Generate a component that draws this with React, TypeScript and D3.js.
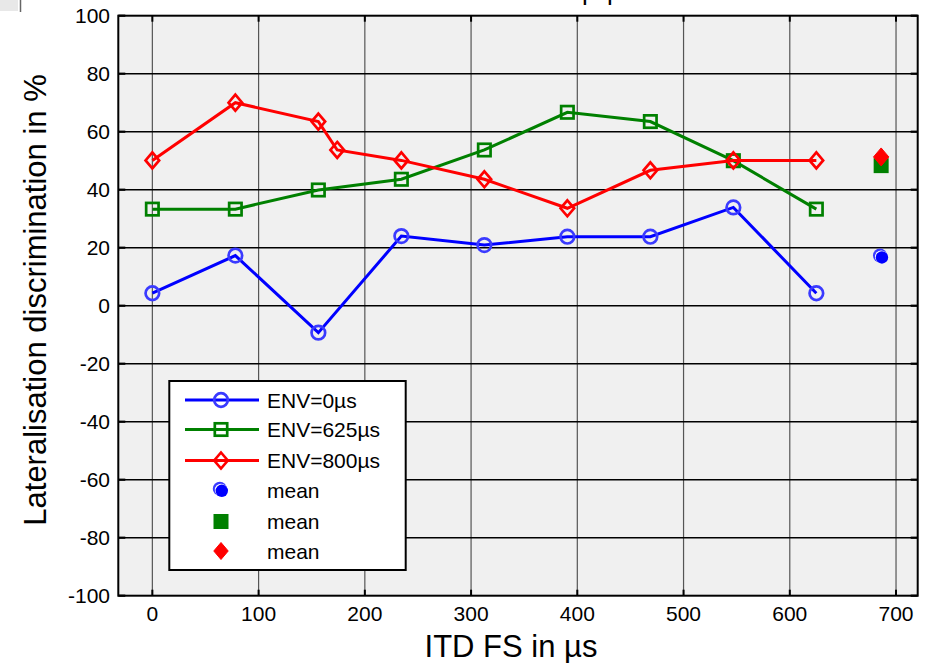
import React from "react";
import * as d3 from "d3";

const itdValues = [0, 78.125, 156.25, 234.375, 312.5, 390.625, 468.75, 546.875, 625];
const env0Values = [4.3, 17.3, -9.3, 24.0, 20.9, 23.8, 23.8, 33.9, 4.3];
const env625Values = [33.3, 33.3, 39.9, 43.6, 53.7, 66.7, 63.5, 50.0, 33.3];
const env800Itd = [0, 78.125, 156.25, 174, 234.375, 312.5, 390.625, 468.75, 546.875, 625];
const env800Values = [50.1, 70.0, 63.5, 53.7, 50.1, 43.6, 33.6, 46.7, 50.1, 50.1];
const meanItd = 686;
const meanValues = [16.9, 48.3, 51.3];
const xTicks = [0, 100, 200, 300, 400, 500, 600, 700];
const yTicks = [-100, -80, -60, -40, -20, 0, 20, 40, 60, 80, 100];
const legendLabels = ["ENV=0µs", "ENV=625µs", "ENV=800µs", "mean", "mean", "mean"];

const W = 928, H = 663;
const L = 118.3, R = 917.7, T = 15.7, B = 595.7;
const FONT = "'Liberation Sans', Arial, sans-serif";
const BLUE = "#0000ff", BLUE_M = "#3a3aff", GREEN = "#008000", RED = "#ff0000";

const x = d3.scaleLinear().domain([-32.06, 720.4]).range([L, R]);
const y = d3.scaleLinear().domain([-100, 100]).range([B, T]);

function Circle({ cx, cy }: { cx: number; cy: number }) {
  return <circle cx={cx} cy={cy} r={6.8} fill="none" stroke={BLUE_M} strokeWidth={2.7} />;
}
function Square({ cx, cy }: { cx: number; cy: number }) {
  return <rect x={cx - 6.2} y={cy - 6.2} width={12.4} height={12.4} fill="none" stroke={GREEN} strokeWidth={2.7} />;
}
function Diamond({ cx, cy, s = 8, fill = "none" }: { cx: number; cy: number; s?: number; fill?: string }) {
  return (
    <path
      d={`M${cx},${cy - s}L${cx + s * 0.85},${cy}L${cx},${cy + s}L${cx - s * 0.85},${cy}Z`}
      fill={fill}
      stroke={RED}
      strokeWidth={fill === "none" ? 2.7 : 1}
    />
  );
}
function MeanCircle({ cx, cy }: { cx: number; cy: number }) {
  return (
    <g>
      <circle cx={cx - 1.2} cy={cy - 1.2} r={7} fill={BLUE_M} />
      <circle cx={cx} cy={cy} r={6.2} fill="#ffffff" />
      <circle cx={cx + 0.8} cy={cy + 0.8} r={6.2} fill={BLUE} />
    </g>
  );
}
function MeanSquare({ cx, cy }: { cx: number; cy: number }) {
  return <rect x={cx - 7.5} y={cy - 7.5} width={15} height={15} fill={GREEN} />;
}

export default function App() {
  const line = d3.line<[number, number]>().x((d) => x(d[0])).y((d) => y(d[1]));
  const blue = itdValues.map((v, i) => [v, env0Values[i]] as [number, number]);
  const green = itdValues.map((v, i) => [v, env625Values[i]] as [number, number]);
  const red = env800Itd.map((v, i) => [v, env800Values[i]] as [number, number]);

  const lgX0 = 185, lgX1 = 259, lgM = 221, lgT = 267;
  const rows = [400, 429.5, 460.5, 490, 521.5, 551];

  return (
    <svg width={W} height={H} style={{ position: "absolute", left: 0, top: 0, background: "#fff" }} fontFamily={FONT}>
      <rect x={0} y={0} width={18} height={11} fill="#e8e8e8" />
      <line x1={20.5} y1={0} x2={20.5} y2={12} stroke="#666" strokeWidth={1.5} />
      <text x={582} y={-0.5} fontSize={26} letterSpacing={10.5} fill="#000">pp</text>

      <rect x={L} y={T} width={R - L} height={B - T} fill="#f0f0f0" />
      {xTicks.map((t) => (
        <line key={"vx" + t} x1={x(t)} x2={x(t)} y1={T} y2={B} stroke="#555" strokeWidth={1.2} />
      ))}
      {yTicks.slice(1, -1).map((t) => (
        <line key={"hy" + t} x1={L} x2={R} y1={y(t)} y2={y(t)} stroke="#000" strokeWidth={1.6} />
      ))}
      {xTicks.map((t) => (
        <g key={"tx" + t}>
          <line x1={x(t)} x2={x(t)} y1={T} y2={T + 6} stroke="#000" strokeWidth={2} />
          <line x1={x(t)} x2={x(t)} y1={B} y2={B - 6} stroke="#000" strokeWidth={2} />
        </g>
      ))}
      {yTicks.map((t) => (
        <g key={"ty" + t}>
          <line x1={L} x2={L + 7} y1={y(t)} y2={y(t)} stroke="#000" strokeWidth={2.2} />
          <line x1={R} x2={R - 7} y1={y(t)} y2={y(t)} stroke="#000" strokeWidth={2.2} />
        </g>
      ))}
      <rect x={L} y={T} width={R - L} height={B - T} fill="none" stroke="#000" strokeWidth={2} />

      {xTicks.map((t) => (
        <text key={"lx" + t} x={x(t)} y={621} fontSize={21} textAnchor="middle" fill="#000">{t}</text>
      ))}
      {yTicks.map((t) => (
        <text key={"ly" + t} x={110} y={y(t)} dy="0.36em" fontSize={21} textAnchor="end" fill="#000">{t}</text>
      ))}
      <text x={511} y={657} fontSize={31} textAnchor="middle" fill="#000">ITD FS in µs</text>
      <text transform={`translate(46,300) rotate(-90)`} fontSize={31} textAnchor="middle" fill="#000">
        Lateralisation discrimination in %
      </text>

      <path d={line(blue) || ""} fill="none" stroke={BLUE} strokeWidth={3} />
      {blue.map((d, i) => <Circle key={"b" + i} cx={x(d[0])} cy={y(d[1])} />)}
      <path d={line(green) || ""} fill="none" stroke={GREEN} strokeWidth={3} />
      {green.map((d, i) => <Square key={"g" + i} cx={x(d[0])} cy={y(d[1])} />)}
      <path d={line(red) || ""} fill="none" stroke={RED} strokeWidth={3} />
      {red.map((d, i) => <Diamond key={"r" + i} cx={x(d[0])} cy={y(d[1])} />)}

      <MeanCircle cx={x(meanItd)} cy={y(meanValues[0])} />
      <MeanSquare cx={x(meanItd)} cy={y(meanValues[1])} />
      <Diamond cx={x(meanItd)} cy={y(meanValues[2])} s={9} fill={RED} />

      <rect x={169.3} y={381} width={236.4} height={189} fill="#fff" stroke="#000" strokeWidth={2} />
      <line x1={lgX0} x2={lgX1} y1={rows[0]} y2={rows[0]} stroke={BLUE} strokeWidth={3} />
      <Circle cx={lgM} cy={rows[0]} />
      <line x1={lgX0} x2={lgX1} y1={rows[1]} y2={rows[1]} stroke={GREEN} strokeWidth={3} />
      <Square cx={lgM} cy={rows[1]} />
      <line x1={lgX0} x2={lgX1} y1={rows[2]} y2={rows[2]} stroke={RED} strokeWidth={3} />
      <Diamond cx={lgM} cy={rows[2]} />
      <MeanCircle cx={lgM} cy={rows[3]} />
      <MeanSquare cx={lgM} cy={rows[4]} />
      <Diamond cx={lgM} cy={rows[5]} s={8.5} fill={RED} />
      {legendLabels.map((s, i) => (
        <text key={"lg" + i} x={lgT} y={rows[i]} dy="0.36em" fontSize={21} fill="#000">{s}</text>
      ))}
    </svg>
  );
}
